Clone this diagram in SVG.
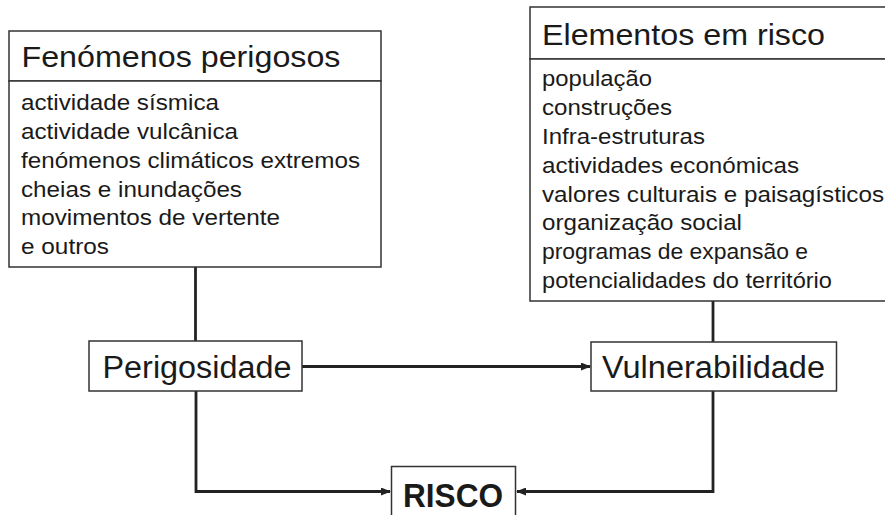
<svg xmlns="http://www.w3.org/2000/svg" width="885" height="515" viewBox="0 0 885 515">
<defs>
<style>
.box{fill:#fff;stroke:#333;stroke-width:1.5}
.t{font-family:"Liberation Sans",Arial,sans-serif;fill:#1a1a1a}
.title{font-size:30px}
.body{font-size:22.5px}
.mid{font-size:31px}
.bold{font-size:34px;font-weight:bold}
.con{fill:none;stroke:#222;stroke-width:2.8}
</style>
<marker id="ah" markerWidth="10" markerHeight="8" refX="9" refY="4" orient="auto" markerUnits="userSpaceOnUse">
<path d="M0,0 L10,4 L0,8 Z" fill="#222"/>
</marker>
</defs>
<rect width="885" height="515" fill="#fff"/>
<g id="connectors">
<line class="con" x1="195.5" y1="267" x2="195.5" y2="341"/>
<line class="con" x1="713" y1="301" x2="713" y2="342"/>
<line class="con" x1="302" y1="366.5" x2="590" y2="366.5" marker-end="url(#ah)"/>
<polyline class="con" points="196,391 196,491.5 390,491.5" marker-end="url(#ah)"/>
<polyline class="con" points="713,391 713,491.5 517,491.5" marker-end="url(#ah)"/>
</g>
<g id="fenomenos">
<rect class="box" x="9" y="31" width="372" height="50"/>
<rect class="box" x="9" y="81" width="372" height="186"/>
<text class="t title" x="21.5" y="66.5" textLength="319" lengthAdjust="spacingAndGlyphs">Fenómenos perigosos</text>
<text class="t body" x="21" y="110" textLength="198" lengthAdjust="spacingAndGlyphs">actividade sísmica</text>
<text class="t body" x="21" y="139" textLength="217" lengthAdjust="spacingAndGlyphs">actividade vulcânica</text>
<text class="t body" x="21" y="168" textLength="339" lengthAdjust="spacingAndGlyphs">fenómenos climáticos extremos</text>
<text class="t body" x="21" y="196.5" textLength="221" lengthAdjust="spacingAndGlyphs">cheias e inundações</text>
<text class="t body" x="21" y="225" textLength="259" lengthAdjust="spacingAndGlyphs">movimentos de vertente</text>
<text class="t body" x="21" y="254" textLength="88" lengthAdjust="spacingAndGlyphs">e outros</text>
</g>
<g id="elementos">
<rect class="box" x="530" y="7" width="362" height="52"/>
<rect class="box" x="530" y="59" width="362" height="242"/>
<text class="t title" x="542" y="45" textLength="283" lengthAdjust="spacingAndGlyphs">Elementos em risco</text>
<text class="t body" x="542" y="86" textLength="110" lengthAdjust="spacingAndGlyphs">população</text>
<text class="t body" x="542" y="115" textLength="130" lengthAdjust="spacingAndGlyphs">construções</text>
<text class="t body" x="542" y="144" textLength="163" lengthAdjust="spacingAndGlyphs">Infra-estruturas</text>
<text class="t body" x="542" y="173" textLength="257" lengthAdjust="spacingAndGlyphs">actividades económicas</text>
<text class="t body" x="542" y="202" textLength="342" lengthAdjust="spacingAndGlyphs">valores culturais e paisagísticos</text>
<text class="t body" x="542" y="230" textLength="200" lengthAdjust="spacingAndGlyphs">organização social</text>
<text class="t body" x="542" y="259" textLength="266" lengthAdjust="spacingAndGlyphs">programas de expansão e</text>
<text class="t body" x="542" y="288" textLength="290" lengthAdjust="spacingAndGlyphs">potencialidades do território</text>
</g>
<g id="perigosidade">
<rect class="box" x="89" y="341" width="213" height="50"/>
<text class="t mid" x="102.5" y="377.5" textLength="189" lengthAdjust="spacingAndGlyphs">Perigosidade</text>
</g>
<g id="vulnerabilidade">
<rect class="box" x="591" y="342" width="245.5" height="49"/>
<text class="t mid" x="602" y="378" textLength="223" lengthAdjust="spacingAndGlyphs">Vulnerabilidade</text>
</g>
<g id="risco">
<rect class="box" x="391.5" y="466.5" width="124" height="60"/>
<text class="t bold" x="403" y="506.5" textLength="100" lengthAdjust="spacingAndGlyphs">RISCO</text>
</g>
</svg>
